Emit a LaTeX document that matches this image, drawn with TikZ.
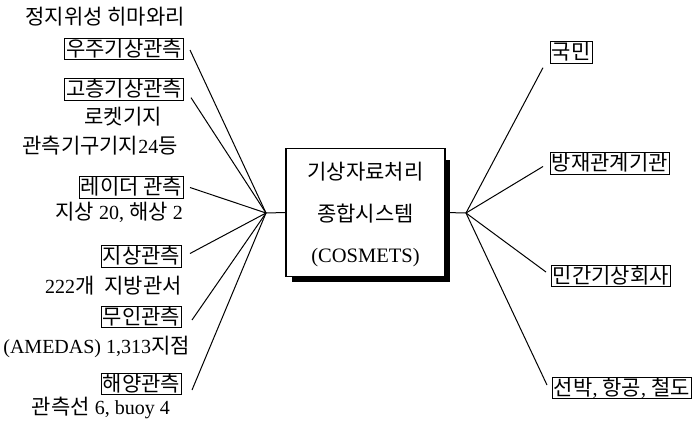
\documentclass[tikz,border=0pt]{standalone}
\usepackage{fontspec}
\setmainfont{Liberation Serif}
\newfontfamily\kr[Scale=1.05]{Noto Sans CJK KR}
\usetikzlibrary{backgrounds}
\begin{document}
\begin{tikzpicture}[x=1pt,y=-1pt,
  every node/.style={font=\fontsize{20}{24}\selectfont, inner sep=0pt},
  lab/.style={draw, line width=0.8pt, inner xsep=1.5pt, inner ysep=1.5pt, text height=16.5pt, text depth=2pt},
  txt/.style={text height=16pt, text depth=3pt},
  conn/.style={line width=1pt},
  sysbox/.style={draw, line width=1.2pt, fill=white, minimum width=159pt, minimum height=128pt}]
\useasboundingbox (0,0) rectangle (694,432);

% central box
\node[sysbox] (sys) at (365.5,212.5) {};
\begin{scope}[on background layer]
  \fill ([shift={(7,5)}]sys.south west) rectangle ([shift={(4,12)}]sys.north east);
\end{scope}
\node[txt] (s1) at ([shift={(0,-39.5)}]sys.center) {\kr 기상자료처리};
\node[txt] (s2) at ([shift={(0,2.5)}]sys.center) {\kr 종합시스템};
\node[txt, font=\fontsize{20.5}{24}\selectfont] (s3) at ([shift={(0,43.5)}]sys.center) {(COSMETS)};

% left labels
\node[txt, anchor=east] (t1) at (185,18) {\kr 정지위성 히마와리};
\node[lab, anchor=east] (u1) at (184,49) {\kr 우주기상관측};
\node[lab, anchor=east] (u2) at (184,89.5) {\kr 고층기상관측};
\node[txt] (t2) at (123,118) {\kr 로켓기지};
\node[txt] (t3) at (100,147) {{\kr 관측기구기지}24{\kr 등}};
\node[lab, anchor=east] (u3) at (184,187.5) {\kr 레이더 관측};
\node[txt, anchor=east] (t4) at (183,213) {{\kr 지상} 20, {\kr 해상} 2};
\node[lab, anchor=east] (u4) at (182,256.5) {\kr 지상관측};
\node[txt, anchor=east] (t5) at (182,287) {222{\kr 개}\hspace{10pt}{\kr 지방관서}};
\node[lab, anchor=east] (u5) at (182,317) {\kr 무인관측};
\node[txt, anchor=east] (t6) at (190,347) {(AMEDAS) 1,313{\kr 지점}};
\node[lab, anchor=east] (u6) at (182,384) {\kr 해양관측};
\node[txt, anchor=east] (t7) at (170,408) {{\kr 관측선} 6, buoy 4};

% right labels
\node[lab, anchor=west] (r1) at (550,52.5) {\kr 국민};
\node[lab, anchor=west] (r2) at (550,163.5) {\kr 방재관계기관};
\node[lab, anchor=west] (r3) at (551,276) {\kr 민간기상회사};
\node[lab, anchor=west] (r4) at (552,388) {{\kr 선박}, {\kr 항공}, {\kr 철도}};

% hubs
\coordinate (hl) at (266,213);
\coordinate (hr) at (466,213);
\draw[conn] (hl) -- (sys.west);
\draw[conn] (sys.east) -- (hr);

\draw[conn] (hl) -- ([shift={(6,1)}]u1.east);
\draw[conn] (hl) -- ([shift={(7,-3)}]u2.south east);
\draw[conn] (hl) -- ([shift={(6,0)}]u3.east);
\draw[conn] (hl) -- ([shift={(8,-3)}]u4.east);
\draw[conn] (hl) -- ([shift={(10,3)}]u5.east);
\draw[conn] (hl) -- ([shift={(10,6)}]u6.east);

\draw[conn] (hr) -- ([shift={(-7,4)}]r1.south west);
\draw[conn] (hr) -- ([shift={(-7,3)}]r2.west);
\draw[conn] (hr) -- ([shift={(-5,-4)}]r3.west);
\draw[conn] (hr) -- ([shift={(-5,-3)}]r4.west);
\end{tikzpicture}
\end{document}
